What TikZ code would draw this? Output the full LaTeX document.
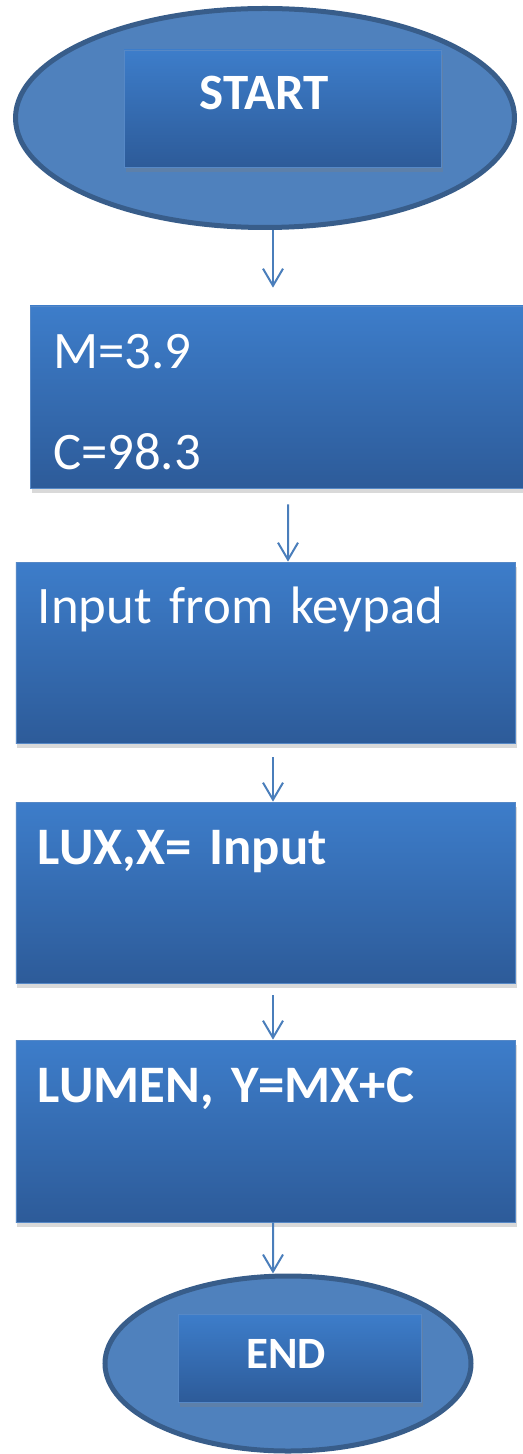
\documentclass[tikz,border=0pt]{standalone}
\usepackage{fontspec}
\setmainfont{Carlito}
\usetikzlibrary{arrows.meta,shapes.geometric,shadows}

\definecolor{boxtop}{RGB}{61,125,202}
\definecolor{boxbot}{RGB}{45,91,153}
\definecolor{boxline}{RGB}{86,136,198}
\definecolor{ellfill}{RGB}{79,129,189}
\definecolor{ellline}{RGB}{56,93,138}
\definecolor{arrowcol}{RGB}{74,126,187}

\begin{document}
\begin{tikzpicture}[
    blockbox/.style={draw=boxline, line width=0.4pt, top color=boxtop, bottom color=boxbot,
        drop shadow={opacity=0.3, shadow xshift=0.03cm, shadow yshift=-0.1cm},
        inner ysep=0pt, text=white},
    stepbox/.style={blockbox, inner xsep=0.44cm, text width=9.1cm, align=left,
        font=\fontsize{30}{36}\selectfont},
    termoval/.style={ellipse, draw=ellline, line width=0.1cm, fill=ellfill, inner sep=0pt},
    flowarrow/.style={draw=arrowcol, line width=0.04cm, -{Straight Barb[length=0.34cm, width=0.4cm]}}
]
    \useasboundingbox (0,0) rectangle (10.44,-29.08);

    \node[termoval, minimum width=9.98cm, minimum height=4.38cm] (startout) at (5.30,-2.36) {};
    \node[blockbox, inner xsep=0pt, text width=6.34cm, align=center, text height=1.2cm, text depth=1.14cm,
        font=\bfseries\fontsize{29}{34}\selectfont] (startin) at (5.65,-2.17) {START\hspace*{0.72cm}};

    \node[stepbox, inner xsep=0.46cm, text width=9.08cm, text height=1.26cm, text depth=2.38cm] (consts) at (5.60,-7.94) {M=3.9\\[0.75cm]C=98.3};
    \node[stepbox, text height=1.22cm, text depth=2.40cm] (keypad) at (5.31,-13.05) {Input from keypad};
    \node[stepbox, text height=1.24cm, text depth=2.38cm, font=\bfseries\fontsize{30}{36}\selectfont] (luxin) at (5.31,-17.85) {LUX,X= Input};
    \node[stepbox, text height=1.24cm, text depth=2.40cm, font=\bfseries\fontsize{30}{36}\selectfont] (lumen) at (5.31,-22.62) {LUMEN, Y=MX+C};

    \node[termoval, minimum width=7.32cm, minimum height=3.50cm] (endout) at (5.76,-27.27) {};
    \node[blockbox, inner xsep=0pt, text width=4.86cm, align=center, text height=1.08cm, text depth=0.68cm,
        font=\bfseries\fontsize{25.5}{30}\selectfont] (endin) at (5.99,-27.16) {END\hspace*{0.54cm}};

    \draw[flowarrow, shorten >=0.36cm] ([xshift=0.16cm]startout.south) -- ([xshift=-0.14cm]consts.north);
    \draw[flowarrow, shorten <=0.32cm] ([xshift=0.16cm]consts.south) -- ([xshift=0.45cm]keypad.north);
    \draw[flowarrow, shorten <=0.28cm] ([xshift=0.15cm]keypad.south) -- ([xshift=0.15cm]luxin.north);
    \draw[flowarrow, shorten <=0.24cm] ([xshift=0.15cm]luxin.south) -- ([xshift=0.15cm]lumen.north);
    \draw[flowarrow] ([xshift=0.15cm]lumen.south) -- ([xshift=-0.30cm]endout.north);
\end{tikzpicture}
\end{document}
